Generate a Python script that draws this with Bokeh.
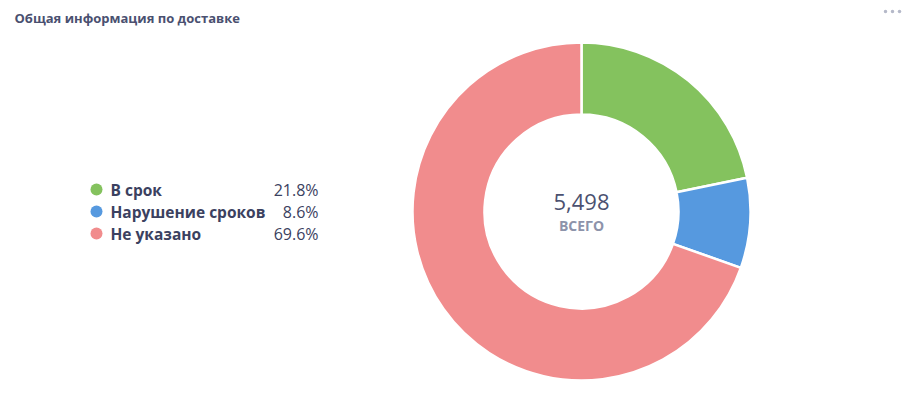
import math
from bokeh.plotting import figure
from bokeh.models import Range1d, ColumnDataSource
from bokeh.core.properties import value
from bokeh.embed import file_html
from bokeh.resources import INLINE

title = "Общая информация по доставке"
categories = ["В срок", "Нарушение сроков", "Не указано"]
counts = [1199, 473, 3826]
colors = ["#84c25e", "#5699df", "#f18c8d"]
total_label = "ВСЕГО"

W, H = 905, 391
p = figure(width=W, height=H, x_range=Range1d(0, W), y_range=Range1d(0, H),
           output_backend="svg", toolbar_location=None, min_border=0)
p.axis.visible = False
p.grid.visible = False
p.outline_line_color = None
p.background_fill_color = "white"
p.border_fill_color = "white"

def Y(sy):
    return H - sy

def X(sx):
    return sx

total = sum(counts)
starts, ends = [], []
cum = 0
for c in counts:
    starts.append(math.pi / 2 - cum / total * 2 * math.pi)
    cum += c
    ends.append(math.pi / 2 - cum / total * 2 * math.pi)

cx, cy = X(581), Y(211)
src = ColumnDataSource(dict(start=starts, end=ends, color=colors))
p.annular_wedge(x=cx, y=cy, inner_radius=97, outer_radius=169,
                start_angle="start", end_angle="end", direction="clock",
                fill_color="color", line_color="white", line_width=2.5, source=src)

font = value("Open Sans")
# title
p.text(x=[X(14)], y=[Y(17)], text=[title], text_font=font, text_font_size="13px",
       text_font_style="bold", text_color="#4a5070", text_baseline="middle")
# dots
p.scatter(x=[X(885), X(892), X(899)], y=[Y(11)] * 3, size=3.5, color="#b5b9c9", line_color=None)

# legend
rows = [189, 211, 233]
pcts = [f"{c / total * 100:.1f}%" for c in counts]
p.scatter(x=[X(96)] * 3, y=[Y(r) for r in rows], size=12, color=colors, line_color=None)
p.text(x=[X(110)] * 3, y=[Y(r) for r in rows], text=categories, text_font=font,
       text_font_size="15.5px", text_font_style="bold", text_color="#3b4160",
       text_baseline="middle")
p.text(x=[X(318)] * 3, y=[Y(r) for r in rows], text=pcts, text_font=font,
       text_font_size="16px", text_color="#3b4160", text_baseline="middle", text_align="right")

# center
p.text(x=[cx], y=[Y(201)], text=[f"{total:,}"], text_font=font, text_font_size="22px",
       text_color="#4b5170", text_baseline="middle", text_align="center")
p.text(x=[cx], y=[Y(225)], text=[total_label], text_font=font, text_font_size="14px",
       text_font_style="bold", text_color="#8d93aa", text_baseline="middle", text_align="center")

open("out.html", "w").write(file_html(p, INLINE))
